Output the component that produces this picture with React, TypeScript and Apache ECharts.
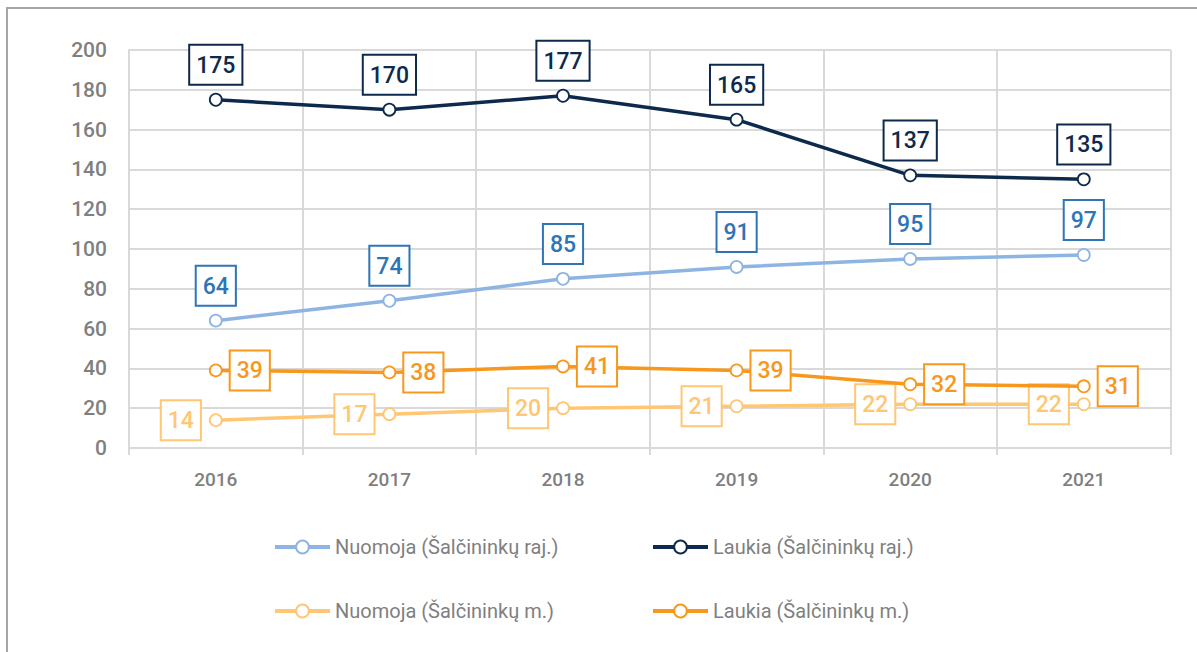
import React, { useEffect, useRef } from "react";
import * as echarts from "echarts";

const years = ["2016", "2017", "2018", "2019", "2020", "2021"];
const nuomojaRaj = [64, 74, 85, 91, 95, 97];
const laukiaRaj = [175, 170, 177, 165, 137, 135];
const nuomojaM = [14, 17, 20, 21, 22, 22];
const laukiaM = [39, 38, 41, 39, 32, 31];
const seriesNames = [
  "Nuomoja (Šalčininkų raj.)",
  "Laukia (Šalčininkų raj.)",
  "Nuomoja (Šalčininkų m.)",
  "Laukia (Šalčininkų m.)",
];

const FONT = "Roboto, 'Liberation Sans', sans-serif";
const GRID = "#d9d9d9";
const GRAY = "#7f7f7f";

export default function App() {
  const ref = useRef<HTMLDivElement>(null);
  useEffect(() => {
    document.body.style.margin = "0";
    const chart = echarts.init(ref.current!, null, { renderer: "svg" });
    const mk = (
      name: string,
      data: number[],
      lineColor: string,
      textColor: string,
      position: string,
      distance: number,
      z: number
    ) => ({
      name,
      type: "line",
      data,
      z,
      symbol: "circle",
      symbolSize: 12,
      lineStyle: { color: lineColor, width: 3.5 },
      itemStyle: { color: "#fff", borderColor: lineColor, borderWidth: 1.8 },
      label: {
        show: true,
        position,
        distance,
        color: textColor,
        fontFamily: FONT,
        fontWeight: 500,
        fontSize: 23,
        lineHeight: 25,
        backgroundColor: "#fff",
        borderColor: textColor,
        borderWidth: 2,
        padding: [7, 6, 6, 6],
      },
      emphasis: { disabled: true },
    });
    const legendText = { color: GRAY, fontFamily: FONT, fontSize: 20 };
    const legendPos = [
      [273, 537],
      [651, 537],
      [273, 601],
      [651, 601],
    ];
    chart.setOption({
      animation: false,
      graphic: [
        {
          type: "rect",
          shape: { x: 7, y: 8, width: 3000, height: 3000 },
          style: { fill: "none", stroke: "#a6a6a6", lineWidth: 2 },
          silent: true,
        },
      ],
      legend: seriesNames.map((n, i) => ({
        data: [n],
        left: legendPos[i][0],
        top: legendPos[i][1],
        padding: 0,
        itemWidth: 55,
        itemHeight: 16,
        itemGap: 0,
        lineStyle: { width: 4 },
        textStyle: legendText,
        selectedMode: false,
      })),
      grid: { left: 129, right: 26.4, top: 50, bottom: 204 },
      xAxis: {
        type: "category",
        data: years,
        boundaryGap: true,
        axisLine: { show: true, lineStyle: { color: GRID, width: 2 } },
        axisTick: { show: true, length: 7, lineStyle: { color: GRID, width: 2 } },
        splitLine: { show: true, lineStyle: { color: GRID, width: 2 } },
        axisLabel: { color: GRAY, fontFamily: FONT, fontWeight: 500, fontSize: 19, margin: 22 },
      },
      yAxis: {
        type: "value",
        min: 0,
        max: 200,
        interval: 20,
        axisLine: { show: true, lineStyle: { color: GRID, width: 2 } },
        axisTick: { show: false },
        splitLine: { show: true, lineStyle: { color: GRID, width: 2 } },
        axisLabel: { color: GRAY, fontFamily: FONT, fontWeight: 500, fontSize: 21, margin: 22 },
      },
      series: [
        mk(seriesNames[0], nuomojaRaj, "#8db4e2", "#2e75b6", "top", 9, 2),
        mk(seriesNames[1], laukiaRaj, "#0d2a4c", "#0d2a4c", "top", 9, 3),
        mk(seriesNames[2], nuomojaM, "#ffc673", "#ffc673", "left", 9, 2),
        mk(seriesNames[3], laukiaM, "#f7981c", "#f7981c", "right", 8, 3),
      ],
    });
    return () => chart.dispose();
  }, []);
  return <div ref={ref} style={{ width: 1197, height: 652 }} />;
}
